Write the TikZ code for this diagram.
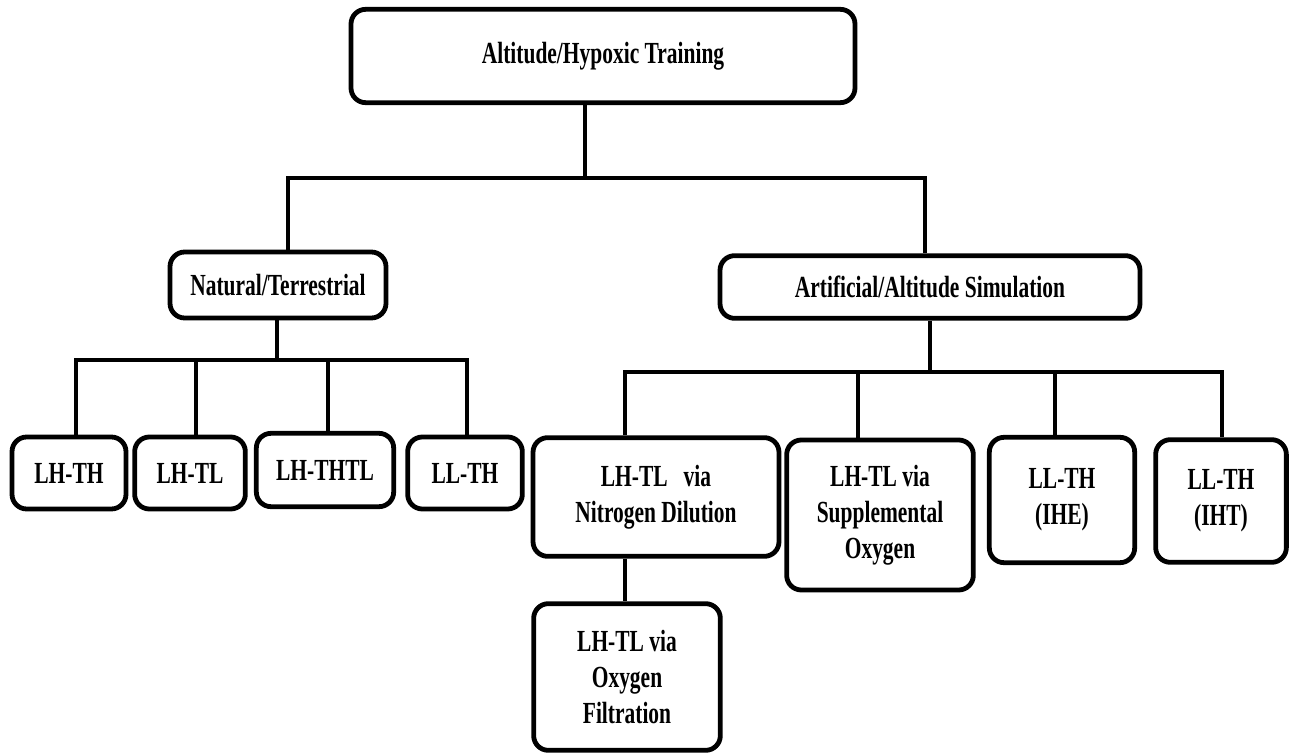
\documentclass[tikz,border=0pt]{standalone}
\usepackage{fontspec}
\setmainfont{Liberation Serif}[FakeStretch=0.7]
\usepackage{xcolor}

\tikzset{
  box/.style={draw, line width=3.6pt, rounded corners=11pt, align=center, inner sep=2pt,
    font=\fontsize{23}{27}\selectfont\bfseries},
  link/.style={line width=3pt}
}

\begin{document}
\begin{tikzpicture}[x=0.75pt,y=0.75pt,yscale=-1,xscale=1]
\useasboundingbox (0,0) rectangle (1295,755);

% Text Node
\node (top) at (603,56) [box, minimum width=378pt, minimum height=70pt] {Altitude/Hypoxic Training};
% Text Node
\node (nat) at (278,285) [box, minimum width=162pt, minimum height=49.5pt] {Natural/Terrestrial};
% Text Node
\node (art) at (930,287) [box, minimum width=315pt, minimum height=47pt] {Artificial/Altitude Simulation};

% Text Node
\node (lhth) at (69,473) [box, minimum width=85.5pt, minimum height=54pt] {LH-TH};
% Text Node
\node (lhtl) at (190,473) [box, minimum width=83pt, minimum height=54pt] {LH-TL};
% Text Node
\node (lhthtl) at (325,470) [box, minimum width=103pt, minimum height=55pt] {LH-THTL};
% Text Node
\node (llth) at (465,473) [box, minimum width=86pt, minimum height=54pt] {LL-TH};

% Text Node
\node (nit) at (656,497) [box, minimum width=184.5pt, minimum height=89pt] {LH-TL~~ via\\Nitrogen Dilution};
% Text Node
\node (sup) at (880,515) [box, minimum width=140pt, minimum height=112.5pt] {LH-TL via\\Supplemental\\Oxygen};
% Text Node
\node (ihe) at (1062,500) [box, minimum width=109pt, minimum height=94pt] {LL-TH\\(IHE)};
% Text Node
\node (iht) at (1221,501) [box, minimum width=98pt, minimum height=92pt] {LL-TH\\(IHT)};
% Text Node
\node (oxy) at (627,677) [box, minimum width=140pt, minimum height=110pt] {LH-TL via\\Oxygen\\Filtration};

% junctions
\coordinate (tA) at (585,178);
\coordinate (nA) at (288,178);
\coordinate (aA) at (925,178);
\coordinate (nB) at (277,360);
\coordinate (n1) at (76,360);
\coordinate (n2) at (196,360);
\coordinate (n3) at (328,360);
\coordinate (n4) at (467,360);
\coordinate (aB) at (930,372);
\coordinate (a1) at (625,372);
\coordinate (a2) at (858,372);
\coordinate (a3) at (1055,372);
\coordinate (a4) at (1222,372);

%Straight Lines
\draw [link] (top.south -| tA) -- (tA);
\draw [link] (nat.north -| nA) |- (aA) -- (art.north -| aA);
%Straight Lines
\draw [link] (nat.south -| nB) -- (nB);
\draw [link] (lhth.north -| n1) |- (n4) -- (llth.north -| n4);
\draw [link] (lhtl.north -| n2) -- (n2);
\draw [link] (lhthtl.north -| n3) -- (n3);
%Straight Lines
\draw [link] (art.south -| aB) -- (aB);
\draw [link] (nit.north -| a1) |- (a4) -- (iht.north -| a4);
\draw [link] (sup.north -| a2) -- (a2);
\draw [link] (ihe.north -| a3) -- (a3);
\draw [link] (nit.south -| a1) -- (oxy.north -| a1);

\end{tikzpicture}
\end{document}
